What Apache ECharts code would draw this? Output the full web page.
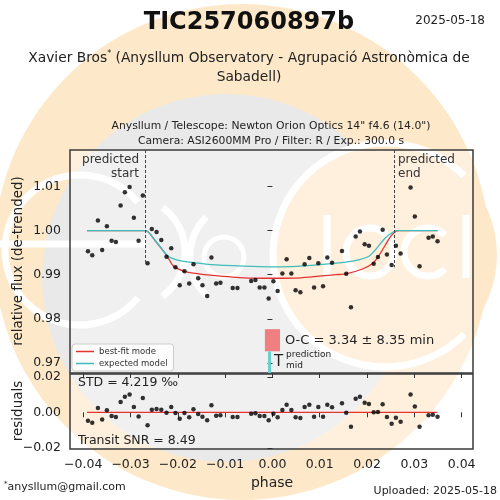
<!DOCTYPE html>
<html>
<head>
<meta charset="utf-8">
<script src="https://cdn.jsdelivr.net/npm/echarts@6/dist/echarts.min.js"></script>
<style>
  html, body { margin: 0; padding: 0; background: #fff; }
  #chart { width: 500px; height: 500px; }
</style>
</head>
<body>
<div id="chart"></div>
<script>
// observations (phase, de-trended flux, residual)
const phase = [-0.0390, -0.0381, -0.0369, -0.0360, -0.0350, -0.0340, -0.0331, -0.0321, -0.0312, -0.0302,
  -0.0293, -0.0283, -0.0274, -0.0264, -0.0255, -0.0245, -0.0235, -0.0224, -0.0214, -0.0205,
  -0.0196, -0.0186, -0.0176, -0.0167, -0.0157, -0.0148, -0.0138, -0.0129, -0.0119, -0.0110,
  -0.0084, -0.0074, -0.0045, -0.0036, -0.0027, -0.0017, -0.0008, 0.0002, 0.0011, 0.0021,
  0.0030, 0.0040, 0.0049, 0.0059, 0.0068, 0.0078, 0.0088, 0.0097, 0.0107, 0.0116,
  0.0126, 0.0147, 0.0156, 0.0166, 0.0176, 0.0185, 0.0195, 0.0204, 0.0214, 0.0223,
  0.0233, 0.0242, 0.0252, 0.0261, 0.0271, 0.0292, 0.0301, 0.0311, 0.0330, 0.0339, 0.0349]
const flux = [0.9953, 0.9944, 1.0023, 0.9956, 1.0010, 0.9977, 0.9974, 1.0057, 1.0087, 1.0099,
  1.0029, 0.9977, 1.0080, 0.9926, 1.0004, 0.9997, 0.9979, 0.9941, 0.9960, 0.9917,
  0.9876, 0.9908, 0.9880, 0.9924, 0.9892, 0.9876, 0.9852, 0.9939, 0.9880, 0.9882,
  0.9870, 0.9870, 0.9886, 0.9888, 0.9871, 0.9871, 0.9846, 0.9885, 0.9863, 0.9903,
  0.9935, 0.9903, 0.9865, 0.9860, 0.9924, 0.9938, 0.9871, 0.9926, 0.9874, 0.9939,
  0.9927, 0.9954, 0.9902, 0.9826, 0.9987, 0.9998, 0.9969, 0.9966, 0.9925, 0.9940,
  1.0002, 0.9946, 0.9922, 0.9966, 0.9948, 1.0098, 1.0032, 0.9919, 0.9984, 0.9987, 0.9976]
const resid = [-0.0047, -0.0059, 0.0024, -0.0040, 0.0011, -0.0021, -0.0027, 0.0058, 0.0088, 0.0100,
  0.0030, -0.0023, 0.0081, -0.0073, 0.0015, 0.0019, 0.0015, -0.0002, 0.0030, -0.0004,
  -0.0036, -0.0004, -0.0028, 0.0017, -0.0010, -0.0025, -0.0045, 0.0040, -0.0019, -0.0017,
  -0.0027, -0.0027, -0.0008, -0.0006, -0.0021, -0.0021, -0.0045, -0.0008, -0.0028, 0.0013,
  0.0043, 0.0013, -0.0028, -0.0032, 0.0030, 0.0043, -0.0025, 0.0030, -0.0025, 0.0043,
  0.0028, 0.0051, -0.0002, -0.0081, 0.0077, 0.0088, 0.0054, 0.0047, 0.0000, 0.0002,
  0.0045, -0.0027, -0.0064, -0.0031, -0.0053, 0.0100, 0.0032, -0.0081, -0.0017, -0.0014, -0.0025]

// model curves
const bestPhase = [-0.0392, -0.0268, -0.0247, -0.0233, -0.0223, -0.0212, -0.0205, -0.0184, -0.0156, -0.0131,
  -0.0060, 0.0000, 0.0060, 0.0133, 0.0156, 0.0190, 0.0211, 0.0223, 0.0239, 0.0250, 0.0259, 0.0267, 0.0349]
const bestFlux = [1.0000, 1.0000, 0.9976, 0.9957, 0.9943, 0.9923, 0.9916, 0.9907, 0.9902, 0.9899,
  0.9893, 0.9892, 0.9893, 0.9900, 0.9902, 0.9913, 0.9925, 0.9940, 0.9968, 0.9987, 0.9997, 1.0000, 1.0000]
const expPhase = [-0.0392, -0.0268, -0.0247, -0.0233, -0.0223, -0.0212, -0.0191, -0.0163, -0.0131, -0.0060,
  -0.0006, 0.0050, 0.0140, 0.0175, 0.0204, 0.0218, 0.0239, 0.0257, 0.0264, 0.0349]
const expFlux = [1.0000, 1.0000, 0.9976, 0.9957, 0.9944, 0.9937, 0.9931, 0.9927, 0.9923, 0.99195,
  0.9918, 0.9919, 0.9927, 0.9932, 0.9942, 0.9957, 0.9984, 0.9998, 1.0000, 1.0000]

const resLinePhase = [-0.0392, 0.0349]
const resLineValue = [0, 0]

const xTicks = [-0.04, -0.03, -0.02, -0.01, 0.00, 0.01, 0.02, 0.03, 0.04]
const fluxTicks = [0.97, 0.98, 0.99, 1.00, 1.01]
const residTicks = [-0.02, 0.00, 0.02]

const predStart = -0.0268
const predEnd = 0.0258
const predMid = -0.00063
const ocErr = 0.0016

const RED = '#e5332f'
const TEAL = '#3dbdbb'
const INK = '#222'
const FONT = 'DejaVu Sans'
const PEACH = '#fde9c9'

const pairs = (xs, ys) => xs.map((x, i) => [x, ys[i]])
const signed = (v) => (v < -1e-9 ? '\u2212' : '') + Math.abs(v).toFixed(2)

const chart = echarts.init(document.getElementById('chart'))

const txt = (x, y, text, size, opts = {}) => ({
  type: 'text', x, y, z: 100, silent: true,
  style: Object.assign({ text, fontSize: size, fontFamily: FONT, fill: INK, align: 'left', verticalAlign: 'middle' }, opts),
})
const vtxt = (x, y, text, size) => Object.assign(txt(x, y, text, size, { align: 'center' }), { rotation: Math.PI / 2 })

const white = { stroke: '#fff', lineWidth: 7, fill: null }

const option = {
  backgroundColor: '#fff',
  animation: false,
  textStyle: { fontFamily: FONT },
  graphic: [
    // ExoClock watermark
    { type: 'circle', z: -20, silent: true, shape: { cx: 242, cy: 252, r: 248 }, style: { fill: PEACH } },
    { type: 'circle', z: -19, silent: true, shape: { cx: 226, cy: 278, r: 184 }, style: { fill: '#e9e9e9' } },
    { type: 'circle', z: -18, silent: true, shape: { cx: 385, cy: 255, r: 112 }, style: { fill: PEACH } },
    { type: 'arc', z: -17, silent: true, shape: { cx: 385, cy: 255, r: 112, startAngle: Math.PI * 0.25, endAngle: Math.PI * 1.75, clockwise: true }, style: white },
    { type: 'arc', z: -17, silent: true, shape: { cx: 80, cy: 250, r: 75, startAngle: Math.PI * 0.22, endAngle: Math.PI * 1.78, clockwise: true }, style: white },
    { type: 'line', z: -17, silent: true, shape: { x1: 0, y1: 244, x2: 145, y2: 244 }, style: white },
    { type: 'arc', z: -17, silent: true, shape: { cx: 130, cy: 252, r: 55, startAngle: -Math.PI * 0.3, endAngle: Math.PI * 0.3, clockwise: true }, style: white },
    { type: 'arc', z: -17, silent: true, shape: { cx: 245, cy: 256, r: 55, startAngle: Math.PI * 0.75, endAngle: Math.PI * 1.25, clockwise: true }, style: white },
    { type: 'circle', z: -17, silent: true, shape: { cx: 224, cy: 257, r: 20 }, style: { stroke: '#fff', lineWidth: 5, fill: null } },
    { type: 'line', z: -17, silent: true, shape: { x1: 327, y1: 215, x2: 327, y2: 278 }, style: white },
    { type: 'circle', z: -17, silent: true, shape: { cx: 370, cy: 252, r: 24 }, style: white },
    { type: 'arc', z: -17, silent: true, shape: { cx: 428, cy: 252, r: 24, startAngle: Math.PI * 0.25, endAngle: Math.PI * 1.75, clockwise: true }, style: white },
    { type: 'line', z: -17, silent: true, shape: { x1: 466, y1: 215, x2: 466, y2: 278 }, style: white },

    // titles
    txt(249, 23, 'TIC257060897b', 24, { align: 'center', fontWeight: 'bold', fill: '#111' }),
    txt(485, 21, '2025-05-18', 12, { align: 'right' }),
    txt(249, 58, '{n|Xavier Bros}{s|*}{n| (Anysllum Observatory - Agrupació Astronòmica de}', 13.8, {
      align: 'center',
      rich: {
        n: { fontSize: 13.8, fontFamily: FONT, fill: INK },
        s: { fontSize: 8, fontFamily: FONT, fill: INK, verticalAlign: 'top', padding: [0, 0, 8, 0] },
      },
    }),
    txt(249, 77, 'Sabadell)', 13.8, { align: 'center' }),
    txt(271, 126, 'Anysllum / Telescope: Newton Orion Optics 14" f4.6 (14.0")', 10.8, { align: 'center' }),
    txt(271, 141, 'Camera: ASI2600MM Pro / Filter: R / Exp.: 300.0 s', 10.8, { align: 'center' }),

    // annotations
    txt(139, 160, 'predicted', 12, { align: 'right', fill: '#333' }),
    txt(139, 174, 'start', 12, { align: 'right', fill: '#333' }),
    txt(398, 160, 'predicted', 12, { fill: '#333' }),
    txt(398, 174, 'end', 12, { fill: '#333' }),
    txt(285, 341, 'O-C = 3.34 \u00b1 8.35 min', 13),
    txt(274, 362, 'T', 15),
    txt(286, 355, 'prediction', 9),
    txt(286, 366, 'mid', 9),
    txt(78, 383, 'STD = 4.219 \u2030', 12.5),
    txt(78, 441, 'Transit SNR = 8.49', 12.5),

    // axis titles
    vtxt(18, 261, 'relative flux (de-trended)', 13.5),
    vtxt(18, 411, 'residuals', 13.5),
    txt(272, 483, 'phase', 14, { align: 'center' }),

    // footer
    txt(4, 487, '{s|*}{n|anysllum@gmail.com}', 11, {
      rich: {
        n: { fontSize: 11, fontFamily: FONT, fill: INK },
        s: { fontSize: 7, fontFamily: FONT, fill: INK, verticalAlign: 'top', padding: [0, 0, 6, 0] },
      },
    }),
    txt(497, 491, 'Uploaded: 2025-05-18', 11, { align: 'right' }),
  ],
  legend: {
    data: ['best-fit mode', 'expected model'],
    orient: 'vertical',
    left: 72,
    top: 344,
    icon: 'rect',
    itemWidth: 18,
    itemHeight: 1.5,
    itemGap: 3,
    padding: [3, 6, 3, 4],
    backgroundColor: 'rgba(255,255,255,0.8)',
    borderColor: '#ccc',
    borderWidth: 1,
    borderRadius: 3,
    textStyle: { fontSize: 8.5, color: '#333', fontFamily: FONT },
  },
  grid: [
    { left: 70, top: 150, width: 403, height: 223, show: true, borderColor: '#3a3a3a', borderWidth: 1.5, backgroundColor: 'rgba(255,255,255,0.35)' },
    { left: 70, top: 374, width: 403, height: 75, show: true, borderColor: '#3a3a3a', borderWidth: 1.5, backgroundColor: 'rgba(255,255,255,0.35)' },
  ],
  xAxis: [
    {
      type: 'value', gridIndex: 0, min: -0.0428, max: 0.0424,
      axisLine: { show: false },
      axisTick: { show: true, inside: false, length: 5, customValues: xTicks, lineStyle: { color: '#333' } },
      axisLabel: { show: false },
      splitLine: { show: false },
    },
    {
      type: 'value', gridIndex: 1, min: -0.0428, max: 0.0424,
      axisLine: { show: false },
      axisTick: { show: true, inside: false, length: 5, customValues: xTicks, lineStyle: { color: '#333' } },
      axisLabel: { show: true, customValues: xTicks, formatter: signed, fontSize: 12.5, color: INK, margin: 9, fontFamily: FONT },
      splitLine: { show: false },
    },
  ],
  yAxis: [
    {
      type: 'value', gridIndex: 0, min: 0.9677, max: 1.0183,
      axisLine: { show: false },
      axisTick: { show: true, inside: false, length: 5, customValues: fluxTicks, lineStyle: { color: '#333' } },
      axisLabel: { show: true, customValues: fluxTicks, formatter: (v) => v.toFixed(2), fontSize: 12.5, color: INK, margin: 9, fontFamily: FONT },
      splitLine: { show: false },
    },
    {
      type: 'value', gridIndex: 1, min: -0.0207, max: 0.0216,
      axisLine: { show: false },
      axisTick: { show: true, inside: false, length: 5, customValues: residTicks, lineStyle: { color: '#333' } },
      axisLabel: { show: true, customValues: residTicks, formatter: signed, fontSize: 12.5, color: INK, margin: 9, fontFamily: FONT },
      splitLine: { show: false },
    },
  ],
  series: [
    {
      name: 'best-fit mode', type: 'line', xAxisIndex: 0, yAxisIndex: 0,
      data: pairs(bestPhase, bestFlux), showSymbol: false, symbol: 'none', smooth: 0.25,
      lineStyle: { color: RED, width: 1.3 }, itemStyle: { color: RED }, z: 3,
    },
    {
      name: 'expected model', type: 'line', xAxisIndex: 0, yAxisIndex: 0,
      data: pairs(expPhase, expFlux), showSymbol: false, symbol: 'none', smooth: 0.25,
      lineStyle: { color: TEAL, width: 1.3 }, itemStyle: { color: TEAL }, z: 4,
    },
    {
      name: 'data', type: 'scatter', xAxisIndex: 0, yAxisIndex: 0,
      data: pairs(phase, flux), symbolSize: 4.5, itemStyle: { color: '#000' }, z: 5,
      markLine: {
        silent: true, symbol: 'none', label: { show: false },
        data: [
          [{ coord: [predStart, 1.0183], lineStyle: { color: '#444', width: 1, type: [3, 2] } }, { coord: [predStart, 0.9928] }],
          [{ coord: [predEnd, 1.0183], lineStyle: { color: '#444', width: 1, type: [3, 2] } }, { coord: [predEnd, 0.9917] }],
          [{ coord: [predMid, 0.9677], lineStyle: { color: '#6ccfcf', width: 3, type: 'solid' } }, { coord: [predMid, 0.9726] }],
        ],
      },
      markArea: {
        silent: true,
        itemStyle: { color: '#f08080' },
        data: [[{ coord: [-ocErr, 0.97262] }, { coord: [ocErr, 0.97765] }]],
      },
    },
    {
      name: 'zero', type: 'line', xAxisIndex: 1, yAxisIndex: 1,
      data: pairs(resLinePhase, resLineValue), symbol: 'none',
      lineStyle: { color: RED, width: 1.3 }, z: 3,
    },
    {
      name: 'residuals', type: 'scatter', xAxisIndex: 1, yAxisIndex: 1,
      data: pairs(phase, resid), symbolSize: 4.5, itemStyle: { color: '#000' }, z: 5,
    },
  ],
}

chart.setOption(option)
window.addEventListener('resize', () => chart.resize())
</script>
</body>
</html>
